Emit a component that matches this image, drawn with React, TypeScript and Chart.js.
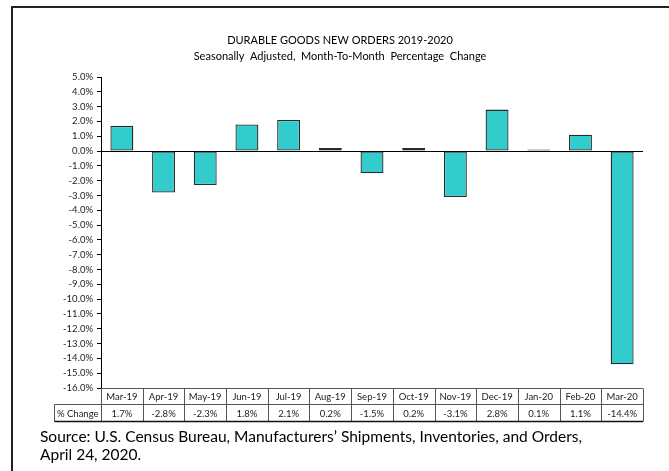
import React, { useEffect, useRef } from "react";
import { Chart, registerables } from "chart.js";

Chart.register(...registerables);

const categories = ["Mar-19", "Apr-19", "May-19", "Jun-19", "Jul-19", "Aug-19", "Sep-19", "Oct-19", "Nov-19", "Dec-19", "Jan-20", "Feb-20", "Mar-20"];
const changes = [1.7, -2.8, -2.3, 1.8, 2.1, 0.2, -1.5, 0.2, -3.1, 2.8, 0.1, 1.1, -14.4];
const yMin = -16;
const yMax = 5;
const yStep = 1;
const titleText = "DURABLE GOODS NEW ORDERS 2019-2020";
const subtitleText = "Seasonally  Adjusted,  Month-To-Month  Percentage  Change";
const rowLabel = "% Change";
const sourceLines = [
  "Source: U.S. Census Bureau, Manufacturers\u2019 Shipments, Inventories, and Orders,",
  "April 24, 2020.",
];

const FONT = "Lato, 'Liberation Sans', sans-serif";

const decorPlugin = {
  id: "decor",
  afterDatasetsDraw(chart: any) {
    const { ctx, chartArea, scales } = chart;
    const y0 = Math.round(scales.y.getPixelForValue(0)) + 0.5;
    ctx.save();
    ctx.strokeStyle = "#000";
    ctx.lineWidth = 1.2;
    ctx.beginPath();
    ctx.moveTo(chartArea.left, y0);
    ctx.lineTo(chartArea.right, y0);
    ctx.stroke();
    ctx.restore();
  },
  afterDraw(chart: any) {
    const { ctx, chartArea, scales } = chart;
    const xs = scales.x;
    ctx.save();
    // outer frame
    ctx.strokeStyle = "#222";
    ctx.lineWidth = 2;
    ctx.strokeRect(12, 7, 720, 520);

    // titles
    ctx.fillStyle = "#000";
    ctx.textAlign = "center";
    ctx.textBaseline = "middle";
    ctx.font = `11px ${FONT}`;
    ctx.fillText(titleText, 340, 40);
    ctx.fillText(subtitleText, 340, 56);

    // data table
    const n = categories.length;
    const cw = (chartArea.right - chartArea.left) / n;
    const top = Math.round(chartArea.bottom) + 0.5;
    const mid = top + 16;
    const bot = mid + 17;
    const labelLeft = 54.5;
    ctx.strokeStyle = "#555";
    ctx.lineWidth = 1;
    ctx.beginPath();
    ctx.moveTo(chartArea.left, top);
    ctx.lineTo(chartArea.right, top);
    ctx.moveTo(labelLeft, mid);
    ctx.lineTo(chartArea.right, mid);
    ctx.moveTo(labelLeft, mid);
    ctx.lineTo(labelLeft, bot);
    for (let i = 0; i <= n; i++) {
      const x = Math.round(chartArea.left + i * cw) + 0.5;
      ctx.moveTo(x, top);
      ctx.lineTo(x, bot);
    }
    ctx.stroke();
    ctx.strokeStyle = "#111";
    ctx.lineWidth = 1.5;
    ctx.beginPath();
    ctx.moveTo(labelLeft, bot);
    ctx.lineTo(chartArea.right, bot);
    ctx.stroke();

    ctx.font = `9.5px ${FONT}`;
    ctx.fillStyle = "#222";
    for (let i = 0; i < n; i++) {
      const cx = xs.getPixelForValue(i);
      ctx.fillText(categories[i], cx, (top + mid) / 2 + 0.5);
      ctx.fillText(changes[i].toFixed(1) + "%", cx, (mid + bot) / 2 + 0.5);
    }
    ctx.fillText(rowLabel, (labelLeft + chartArea.left) / 2, (mid + bot) / 2 + 0.5);

    // source
    ctx.font = `15.5px ${FONT}`;
    ctx.textAlign = "left";
    ctx.fillStyle = "#000";
    ctx.fillText(sourceLines[0], 40, 437);
    ctx.fillText(sourceLines[1], 40, 455);
    ctx.restore();
  },
};

export default function App() {
  const ref = useRef<HTMLCanvasElement | null>(null);
  useEffect(() => {
    const canvas = ref.current;
    if (!canvas) return;
    const chart = new Chart(canvas, {
      type: "bar",
      data: {
        labels: categories,
        datasets: [
          {
            label: rowLabel,
            data: changes,
            backgroundColor: "#33CCCC",
            borderColor: "#2b2b2b",
            borderWidth: 1.3,
            borderSkipped: false,
            barPercentage: 0.55,
            categoryPercentage: 1,
          },
        ],
      },
      options: {
        animation: false,
        responsive: false,
        devicePixelRatio: 1,
        layout: { padding: { left: 0, right: 26, top: 77, bottom: 83 } },
        plugins: { legend: { display: false }, title: { display: false }, tooltip: { enabled: false } },
        scales: {
          x: { display: false },
          y: {
            min: yMin,
            max: yMax,
            afterFit(scale: any) {
              scale.width = 101;
            },
            ticks: {
              stepSize: yStep,
              padding: 4,
              color: "#222",
              font: { family: FONT, size: 9.5 },
              callback: (v: any) => Number(v).toFixed(1) + "%",
            },
            grid: { drawOnChartArea: false, drawTicks: true, tickLength: 4, color: "#000" },
            border: { display: true, color: "#000", width: 1 },
          },
        },
      },
      plugins: [decorPlugin],
    });
    return () => chart.destroy();
  }, []);
  return (
    <div style={{ position: "absolute", left: 0, top: 0, width: 669, height: 471, background: "#fff" }}>
      <canvas ref={ref} width={669} height={471} style={{ width: 669, height: 471, display: "block" }} />
    </div>
  );
}
